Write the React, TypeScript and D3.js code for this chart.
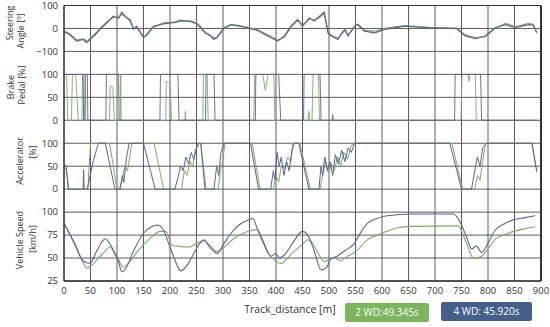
import React from 'react';
import * as d3 from 'd3';

type Pt = [number, number];

// track distance [m] -> value
const steer2wd: Pt[] = [[0,-12],[10,-22],[24,-50],[36,-45],[43,-55],[49,-45],[60,-20],[68,0],[81,30],[93,48],[103,50],[109,60],[118,50],[125,30],[131,0],[137,5],[150,-35],[156,-30],[169,5],[188,25],[207,28],[220,36],[239,30],[250,25],[258,8],[266,-15],[275,-28],[283,-42],[289,-40],[302,0],[315,15],[330,10],[346,5],[365,-5],[384,-28],[403,-50],[416,-38],[428,5],[441,35],[450,15],[463,40],[472,38],[481,45],[491,65],[498,-10],[504,-30],[517,-42],[524,-25],[530,-8],[536,-28],[548,5],[554,20],[567,-8],[586,-12],[605,0],[643,12],[687,5],[741,2],[757,-28],[776,-40],[795,-36],[813,0],[833,22],[851,8],[877,22],[885,18],[892,-15]];
const steer4wd: Pt[] = [[0,-15],[10,-25],[24,-55],[36,-48],[43,-62],[49,-48],[60,-25],[68,-4],[81,25],[93,53],[103,45],[109,71],[118,46],[125,38],[131,-4],[137,10],[150,-41],[156,-26],[169,10],[188,20],[207,25],[220,32],[239,32],[250,20],[258,3],[266,-19],[275,-30],[283,-48],[289,-37],[302,3],[315,17],[330,12],[346,3],[365,-9],[384,-33],[403,-55],[416,-33],[428,10],[441,39],[450,10],[463,46],[472,32],[481,51],[491,71],[498,-19],[504,-33],[517,-48],[524,-20],[530,-4],[536,-33],[548,10],[554,17],[567,-12],[586,-19],[605,-4],[643,10],[687,3],[741,-1],[757,-33],[776,-45],[795,-33],[813,3],[833,17],[851,3],[877,17],[885,15],[892,-19]];

const brake2wd: Pt[] = [[0,100],[5,100],[7,0],[14,0],[16,100],[22,100],[27,0],[34,0],[35,100],[40,100],[41,0],[86,0],[87,75],[92,72],[95,0],[106,0],[107,100],[108,0],[192,0],[193,85],[200,80],[203,0],[228,0],[229,20],[230,0],[262,0],[263,100],[270,100],[272,0],[358,0],[360,100],[375,100],[380,65],[385,100],[396,100],[398,0],[460,0],[462,20],[464,0],[468,0],[470,100],[480,100],[482,0],[749,0],[751,100],[762,100],[764,85],[766,100],[776,100],[778,0],[892,0]];
const brake4wd: Pt[] = [[0,100],[36,100],[37,0],[39,0],[40,100],[44,100],[45,0],[79,0],[80,100],[103,100],[104,0],[181,0],[182,100],[215,100],[217,0],[267,0],[268,100],[283,100],[285,0],[361,0],[362,100],[405,100],[409,0],[452,0],[453,100],[483,100],[485,0],[506,0],[507,12],[508,0],[737,0],[738,100],[786,100],[788,0],[892,0]];

const accel2wd: Pt[] = [[0,50],[5,40],[9,0],[45,0],[50,100],[86,100],[100,0],[104,0],[110,20],[115,50],[120,40],[128,100],[170,100],[188,0],[222,0],[227,40],[232,30],[238,60],[243,50],[248,85],[254,100],[258,100],[268,0],[291,0],[295,40],[299,60],[304,100],[355,100],[370,0],[395,0],[400,30],[405,15],[410,50],[416,45],[422,70],[428,60],[432,100],[445,100],[465,0],[483,0],[488,30],[494,60],[499,35],[505,55],[510,40],[516,70],[522,50],[528,80],[535,65],[542,95],[548,100],[732,100],[752,0],[775,0],[780,30],[785,20],[790,60],[795,100],[883,100],[892,38]];
const accel4wd: Pt[] = [[0,55],[4,50],[8,0],[36,0],[37,42],[38,0],[44,0],[55,60],[65,100],[78,100],[96,0],[106,0],[110,30],[113,15],[118,70],[123,100],[150,100],[172,0],[209,0],[215,25],[220,50],[225,40],[230,70],[235,55],[240,80],[245,65],[250,90],[255,100],[258,100],[266,0],[283,0],[288,50],[292,30],[296,80],[302,100],[352,100],[367,0],[390,0],[395,40],[398,20],[402,80],[406,50],[410,70],[415,30],[420,60],[425,40],[430,85],[435,100],[443,100],[462,0],[481,0],[485,50],[488,30],[492,70],[497,40],[502,60],[507,30],[512,75],[518,55],[524,85],[530,60],[536,90],[542,80],[548,100],[728,100],[750,0],[769,0],[775,40],[780,70],[785,50],[790,90],[797,100],[883,100],[892,38]];

const speed2wd: Pt[] = [[0,88],[20,65],[36,45],[43,39],[51,41],[62,48],[75,56],[87,62],[98,52],[103,48],[112,40],[125,47],[140,58],[160,70],[182,79],[192,79],[204,64],[215,63],[236,62],[250,66],[264,69],[275,64],[289,57],[300,61],[320,71],[346,79],[365,81],[375,70],[385,56],[397,48],[409,44],[430,55],[450,65],[460,70],[466,68],[478,57],[491,46],[502,49],[510,50],[521,47],[535,52],[548,56],[573,70],[600,77],[630,83],[656,84.5],[744,85],[755,72],[765,58],[772,50],[785,51],[800,60],[813,70],[830,75],[845,78.5],[870,82],[889,84]];
const speed4wd: Pt[] = [[0,88],[20,66],[36,47],[49,44],[62,58],[78,71],[90,62],[103,46],[109,35],[118,40],[130,56],[150,77],[165,84],[176,86],[185,83],[200,62],[212,44],[220,36],[232,42],[245,55],[258,67],[264,70],[272,64],[283,57],[289,55],[300,64],[315,77],[330,86],[346,91],[356,93],[366,80],[378,64],[390,52],[400,55],[406,50],[415,53],[430,65],[450,79],[460,75],[472,58],[485,37],[496,40],[502,48],[515,52],[530,58],[548,66],[560,78],[573,88],[590,93],[610,96],[656,98],[735,98],[750,86],[760,72],[769,60],[778,63],[788,56],[800,66],[813,80],[830,87],[845,91],[870,94],[889,96]];

const distTicks = d3.range(0, 901, 50);
const steerTicks = [100, 0, -100];
const brakeTicks = [100, 50, 0];
const accelTicks = [100, 50, 0];
const speedTicks = [100, 75, 50, 25];
const lapTimes = ['2 WD:49.345s', '4 WD: 45.920s'];

const GREEN = '#78ad62';
const BLUE = '#5a6390';
const GRID = '#4a4a4a';
const FONT = '"Open Sans", sans-serif';

const LEFT = 64, RIGHT = 541, TOP = 5.5, BOTTOM = 281;
const BAND = (BOTTOM - TOP) / 12;

const x = d3.scaleLinear().domain([0, 900]).range([LEFT, RIGHT]);

// each panel sits on its own rows of the shared grid
const panels = [
  { domain: [-100, 100], rows: [0, 2], ticks: steerTicks, a: steer2wd, b: steer4wd, smooth: false, sw: 1.2,
    title: [{ t: 'Steering', x: 10, y: 23 }, { t: 'Angle [º]', x: 21, y: 31 }] },
  { domain: [0, 100], rows: [3, 5], ticks: brakeTicks, a: brake2wd, b: brake4wd, smooth: false, sw: 0.9,
    title: [{ t: 'Brake', x: 11, y: 87 }, { t: 'Pedal [%]', x: 22, y: 85 }] },
  { domain: [0, 100], rows: [6, 8], ticks: accelTicks, a: accel2wd, b: accel4wd, smooth: false, sw: 1,
    title: [{ t: 'Accelerator', x: 20, y: 161 }, { t: '[%]', x: 33, y: 152 }] },
  { domain: [25, 100], rows: [9, 12], ticks: speedTicks, a: speed2wd, b: speed4wd, smooth: true, sw: 1.1,
    title: [{ t: 'Vehicle Speed', x: 20, y: 240 }, { t: '[km/h]', x: 33, y: 239 }] },
];

export default function App() {
  const fmt = d3.format('d');
  return (
    <div style={{ position: 'absolute', left: 0, top: 0 }}>
      <svg width={550} height={327} style={{ display: 'block', background: '#fff' }}>
        {/* grid */}
        {d3.range(13).map(i => (
          <line key={'h' + i} x1={LEFT} x2={RIGHT} y1={TOP + i * BAND} y2={TOP + i * BAND}
            stroke={GRID} strokeWidth={0.9} />
        ))}
        {distTicks.map(d => (
          <line key={'v' + d} x1={x(d)} x2={x(d)} y1={TOP} y2={BOTTOM} stroke={GRID} strokeWidth={0.9} />
        ))}

        {panels.map((p, i) => {
          const y = d3.scaleLinear().domain(p.domain).range([TOP + p.rows[1] * BAND, TOP + p.rows[0] * BAND]);
          const line = d3.line<Pt>().x(d => x(d[0])).y(d => y(d[1]))
            .curve(p.smooth ? d3.curveMonotoneX : d3.curveLinear);
          return (
            <g key={i}>
              <path d={line(p.a) || ''} fill="none" stroke={GREEN} strokeWidth={p.sw} strokeLinejoin="round" />
              <path d={line(p.b) || ''} fill="none" stroke={BLUE} strokeWidth={p.sw} strokeLinejoin="round" />
              {p.ticks.map(t => (
                <text key={t} x={58} y={y(t)} dy="0.35em" textAnchor="end" fontSize={9.5}
                  fontFamily={FONT} fill="#333">{fmt(t)}</text>
              ))}
              {p.title.map(tt => (
                <text key={tt.t} transform={`translate(${tt.x},${tt.y}) rotate(-90)`} textAnchor="middle"
                  dy="0.35em" fontSize={9} fontFamily={FONT} fill="#333">{tt.t}</text>
              ))}
            </g>
          );
        })}

        {/* frame */}
        <line x1={LEFT} x2={LEFT} y1={TOP} y2={BOTTOM} stroke="#333" strokeWidth={1.3} />
        <line x1={LEFT} x2={RIGHT} y1={BOTTOM} y2={BOTTOM} stroke="#333" strokeWidth={1.3} />
        <line x1={RIGHT} x2={RIGHT} y1={TOP} y2={BOTTOM} stroke="#333" strokeWidth={2} />
        <line x1={LEFT} x2={RIGHT} y1={TOP} y2={TOP} stroke="#333" strokeWidth={1.2} />

        {distTicks.map(d => (
          <text key={'xt' + d} x={x(d)} y={291} dy="0.35em" textAnchor="middle" fontSize={9.5}
            fontFamily={FONT} fill="#333">{d}</text>
        ))}
        <text x={290} y={309} dy="0.35em" textAnchor="middle" fontSize={10.5} fontFamily={FONT} fill="#333">
          Track_distance [m]
        </text>

        {/* lap time boxes */}
        <rect x={345} y={303} width={84} height={19} rx={2} fill="#7db45e" />
        <text x={387} y={312.5} dy="0.35em" textAnchor="middle" fontSize={10} fontFamily={FONT} fill="#fff">
          {lapTimes[0]}
        </text>
        <rect x={441} y={302} width={91} height={19} rx={2} fill="#44608a" />
        <text x={486.5} y={311.5} dy="0.35em" textAnchor="middle" fontSize={10} fontFamily={FONT} fill="#fff">
          {lapTimes[1]}
        </text>
      </svg>
    </div>
  );
}
